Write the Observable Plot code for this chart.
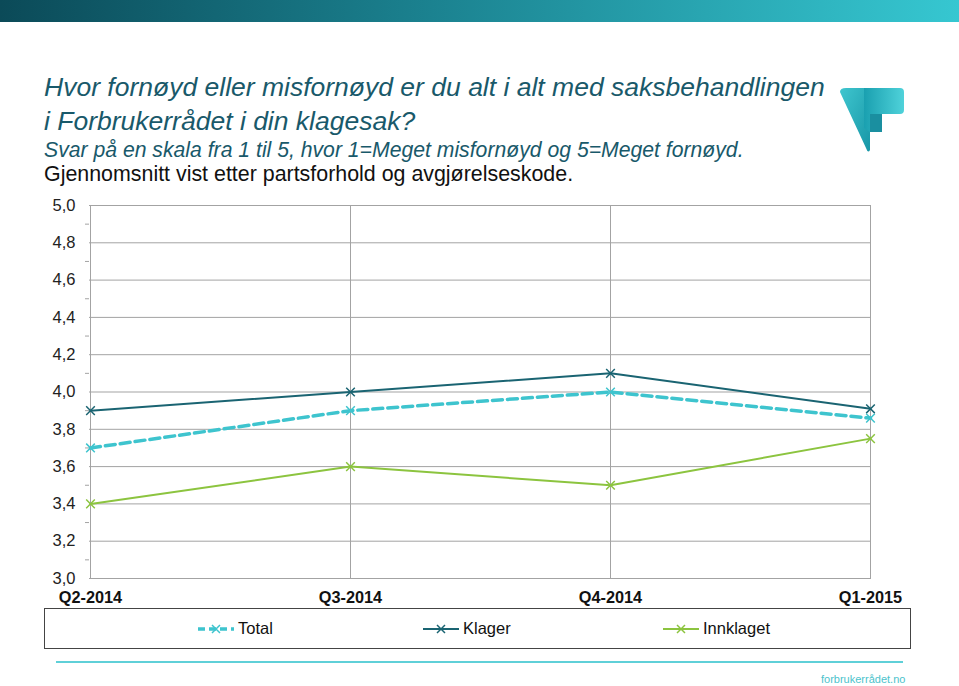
<!DOCTYPE html>
<html>
<head>
<meta charset="utf-8">
<script src="https://cdn.jsdelivr.net/npm/d3@7"></script>
<script src="https://cdn.jsdelivr.net/npm/@observablehq/plot@0.6"></script>
<style>
  html, body { margin: 0; padding: 0; background: #fff; }
  #page { position: relative; width: 959px; height: 686px; overflow: hidden; font-family: "Liberation Sans", Arial, sans-serif; }
  #topbar { position: absolute; left: 0; top: 0; width: 959px; height: 22px; background: linear-gradient(to right, #0b4a58, #1b8290 45%, #36c7d1); }
  .t { position: absolute; left: 44px; white-space: nowrap; line-height: 1; }
  #title1 { top: 74px; font-size: 26.5px; font-style: italic; color: #19596a; }
  #title2 { top: 108px; font-size: 26.5px; font-style: italic; color: #19596a; }
  #sub { top: 139px; font-size: 21.2px; font-style: italic; color: #19596a; }
  #sub2 { top: 164px; font-size: 21.4px; color: #111; }
  #chart { position: absolute; left: 0; top: 190px; }
  #legend { position: absolute; left: 44px; top: 608px; width: 867px; height: 41px; border: 1px solid #444; box-sizing: border-box; }
  .li { position: absolute; top: 10px; font-size: 16.5px; color: #111; display: flex; align-items: center; }
  .li svg { margin-right: 3px; }
  #rule { position: absolute; left: 56px; top: 661px; width: 847px; height: 2px; background: #5fd0d8; }
  #foot { position: absolute; left: 821px; top: 673px; font-size: 11px; color: #4cc3cc; }
  #logo { position: absolute; left: 838px; top: 84px; }
</style>
</head>
<body>
<div id="page">
  <div id="topbar"></div>
  <div class="t" id="title1">Hvor fornøyd eller misfornøyd er du alt i alt med saksbehandlingen</div>
  <div class="t" id="title2">i Forbrukerrådet i din klagesak?</div>
  <div class="t" id="sub">Svar på en skala fra 1 til 5, hvor 1=Meget misfornøyd og 5=Meget fornøyd.</div>
  <div class="t" id="sub2">Gjennomsnitt vist etter partsforhold og avgjørelseskode.</div>
  <svg id="logo" width="70" height="72" viewBox="0 0 70 72">
    <defs>
      <linearGradient id="lg1" x1="0" y1="0" x2="1" y2="1">
        <stop offset="0" stop-color="#3fc6cf"/><stop offset="1" stop-color="#1796a6"/>
      </linearGradient>
      <linearGradient id="lg2" x1="0" y1="0" x2="1" y2="0">
        <stop offset="0" stop-color="#1aa0b0"/><stop offset="1" stop-color="#4fd2da"/>
      </linearGradient>
    </defs>
    <path d="M2,8 Q2,4 8,4 L32,4 L32,66 Q30,70 28,64 Z" fill="url(#lg1)"/>
    <path d="M26,4 L62,4 Q66,4 66,8 L66,26 Q66,30 62,30 L44,30 L44,48 L32,48 L26,44 Z" fill="url(#lg2)"/>
    <path d="M32,30 L44,30 L44,48 L32,48 Z" fill="#1a8fa0"/>
  </svg>
  <div id="chart"></div>
  <div id="legend"></div>
  <div id="rule"></div>
  <div id="foot">forbrukerrådet.no</div>
</div>
<script>
const categories = ["Q2-2014", "Q3-2014", "Q4-2014", "Q1-2015"];
const seriesNames = ["Total", "Klager", "Innklaget"];
const total = [3.70, 3.90, 4.00, 3.86];
const klager = [3.90, 4.00, 4.10, 3.91];
const innklaget = [3.40, 3.60, 3.50, 3.75];
const yTickLabels = ["3,0", "3,2", "3,4", "3,6", "3,8", "4,0", "4,2", "4,4", "4,6", "4,8", "5,0"];
const yMinorTicks = [3.1, 3.3, 3.5, 3.7, 3.9, 4.1, 4.3, 4.5, 4.7, 4.9];

const colors = { "Total": "#3ec4ce", "Klager": "#1a6472", "Innklaget": "#8cc43f" };
const valuesBySeries = { "Total": total, "Klager": klager, "Innklaget": innklaget };
const data = seriesNames.flatMap(s => categories.map((c, i) => ({ series: s, cat: c, value: valuesBySeries[s][i] })));
const yTicks = yTickLabels.map(l => +l.replace(",", "."));

const chart = Plot.plot({
  width: 959,
  height: 418,
  marginLeft: 89,
  marginRight: 88,
  marginTop: 15,
  marginBottom: 30,
  style: { fontFamily: "'Liberation Sans', Arial, sans-serif", background: "transparent" },
  x: { type: "point", domain: categories, padding: 0 },
  y: { domain: [3, 5] },
  marks: [
    Plot.gridY(yTicks, { stroke: "#a3a3a3", strokeOpacity: 1, strokeWidth: 1 }),
    Plot.gridX(categories, { stroke: "#a3a3a3", strokeOpacity: 1, strokeWidth: 1 }),
    Plot.axisY(yMinorTicks, { tickSize: 4, tickFormat: () => "", stroke: "#a3a3a3", label: null }),
    Plot.axisY(yTicks, { tickSize: 0, tickPadding: 14, tickFormat: d => yTickLabels[yTicks.indexOf(d)], fontSize: 16.5, fill: "#222", label: null }),
    Plot.axisX(categories, { tickSize: 0, tickPadding: 13, fontSize: 16.3, fontWeight: "bold", fill: "#111", label: null }),
    Plot.line(data.filter(d => d.series === "Innklaget"), { x: "cat", y: "value", stroke: colors["Innklaget"], strokeWidth: 2 }),
    Plot.line(data.filter(d => d.series === "Klager"), { x: "cat", y: "value", stroke: colors["Klager"], strokeWidth: 2 }),
    Plot.line(data.filter(d => d.series === "Total"), { x: "cat", y: "value", stroke: colors["Total"], strokeWidth: 3.5, strokeDasharray: "10,5" }),
    Plot.dot(data, { x: "cat", y: "value", symbol: "times", r: 4, stroke: d => colors[d.series], strokeWidth: 1.5 })
  ]
});
document.getElementById("chart").appendChild(chart);

// Legend
const legend = document.getElementById("legend");
const legendX = { "Total": 152, "Klager": 377, "Innklaget": 617 };
for (const s of seriesNames) {
  const item = document.createElement("div");
  item.className = "li";
  item.style.left = legendX[s] + "px";
  const dash = s === "Total" ? 'stroke-dasharray="7,4"' : "";
  const sw = s === "Total" ? 3.5 : 2;
  item.innerHTML = `<svg width="38" height="14"><line x1="1" y1="7" x2="37" y2="7" stroke="${colors[s]}" stroke-width="${sw}" ${dash}/><path d="M15,3 L23,11 M23,3 L15,11" stroke="${colors[s]}" stroke-width="1.5"/></svg><span>${s}</span>`;
  legend.appendChild(item);
}
</script>
</body>
</html>
